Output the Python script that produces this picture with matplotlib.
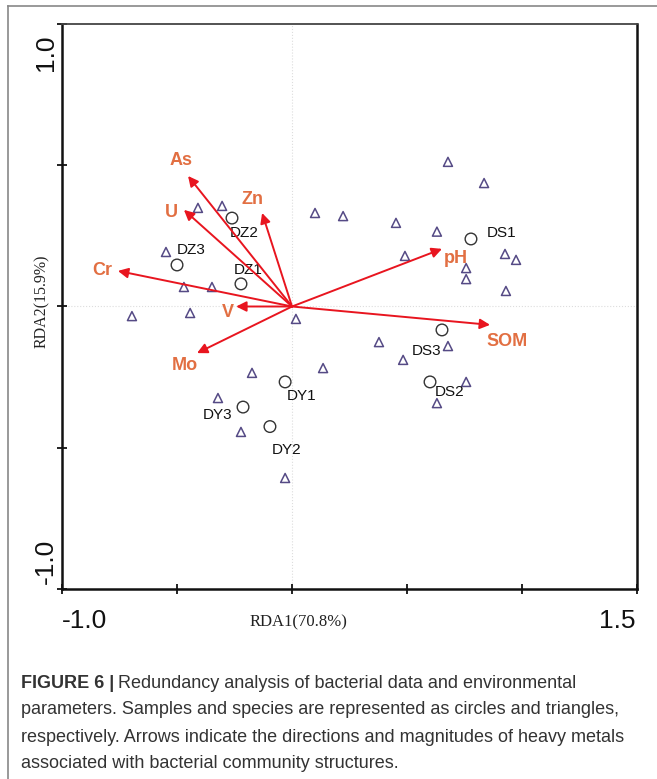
import matplotlib.pyplot as plt
from matplotlib.lines import Line2D

# 環境因子（矢印）
env_names = ["As", "U", "Zn", "Cr", "V", "Mo", "pH", "SOM"]
env_x = [-0.452, -0.470, -0.130, -0.757, -0.243, -0.413, 0.652, 0.861]
env_y = [0.462, 0.342, 0.331, 0.126, 0.000, -0.165, 0.204, -0.065]

# サンプル（丸）
sample_names = ["DZ1", "DZ2", "DZ3", "DS1", "DS2", "DS3", "DY1", "DY2", "DY3"]
sample_x = [-0.222, -0.261, -0.500, 0.778, 0.600, 0.652, -0.030, -0.096, -0.213]
sample_y = [0.080, 0.313, 0.147, 0.239, -0.267, -0.083, -0.267, -0.425, -0.356]

# 種（三角）
species_x = [-0.409, -0.304, 0.100, -0.548, -0.470, -0.348, -0.696, -0.443, 0.017,
             0.222, 0.678, 0.835, 0.452, 0.630, 0.491, 0.926, 0.974, 0.757, 0.757,
             0.930, -0.174, 0.135, -0.322, -0.222, -0.030, 0.378, 0.483, 0.678,
             0.757, 0.630]
species_y = [0.349, 0.356, 0.331, 0.193, 0.069, 0.069, -0.034, -0.023, -0.044,
             0.320, 0.512, 0.437, 0.296, 0.265, 0.179, 0.186, 0.165, 0.136, 0.097,
             0.055, -0.235, -0.218, -0.324, -0.444, -0.607, -0.126, -0.189, -0.140,
             -0.267, -0.342]

# 軸の範囲
x_range = (-1.0, 1.5)
y_range = (-1.0, 1.0)

# ラベルの位置（ポイント単位のオフセット）
env_offsets = {"As": (-5, 11), "U": (-9, -2), "Zn": (-7, 10), "Cr": (-11, 0),
               "V": (-6, -4), "Mo": (-9, -9), "pH": (10, -7), "SOM": (12, -12)}
sample_offsets = {"DZ1": (5, 10), "DZ2": (9, -11), "DZ3": (10, 11), "DS1": (22, 4),
                  "DS2": (14, -7), "DS3": (-11, -15), "DY1": (12, -10),
                  "DY2": (12, -17), "DY3": (-18, -6)}

sans = ["Liberation Sans", "DejaVu Sans"]
arrow_red = "#e8151f"
label_orange = "#e26f42"
tri_color = "#554a85"

fig = plt.figure(figsize=(6.57, 7.79), dpi=100)
ax = fig.add_axes([0.0944, 0.2439, 0.8752, 0.7253])
ax.set_xlim(*x_range)
ax.set_ylim(*y_range)

# 原点の補助線
ax.axhline(0, color="#dddddd", lw=0.8, ls=":", zorder=0)
ax.axvline(0, color="#dddddd", lw=0.8, ls=":", zorder=0)

ax.scatter(species_x, species_y, marker="^", s=42, facecolors="none",
           edgecolors=tri_color, linewidths=1.1, zorder=3)
ax.scatter(sample_x, sample_y, marker="o", s=70, facecolors="none",
           edgecolors="#333333", linewidths=1.0, zorder=3)

for name, x, y in zip(sample_names, sample_x, sample_y):
    dx, dy = sample_offsets[name]
    ax.annotate(name, (x, y), xytext=(dx, dy), textcoords="offset points",
                ha="center", va="center", fontsize=11, family=sans,
                color="#111111", zorder=4)

for name, x, y in zip(env_names, env_x, env_y):
    ax.annotate("", xy=(x, y), xytext=(0, 0),
                arrowprops=dict(arrowstyle="-|>", color=arrow_red, lw=1.4,
                                mutation_scale=15, shrinkA=0, shrinkB=0),
                zorder=5)
    dx, dy = env_offsets[name]
    ax.annotate(name, (x, y), xytext=(dx, dy), textcoords="offset points",
                ha="center", va="center", fontsize=13, fontweight="bold",
                family=sans, color=label_orange, zorder=6)

# 軸の見た目
for side in ["left", "bottom", "right"]:
    ax.spines[side].set_linewidth(1.8)
    ax.spines[side].set_color("#111111")
ax.spines["top"].set_linewidth(1.3)
ax.spines["top"].set_color("#444444")

ax.set_xticks([-1.0, -0.5, 0.0, 0.5, 1.0, 1.5])
ax.set_yticks([-1.0, -0.5, 0.0, 0.5, 1.0])
ax.set_xticklabels([])
ax.set_yticklabels([])
ax.tick_params(direction="inout", length=7, width=1.3, colors="#111111")

# 端の目盛りだけ数値を書く
tick_kw = dict(xycoords="axes fraction", textcoords="offset pixels",
               fontsize=19, family=sans, color="#111111")
ax.annotate(f"{x_range[0]:.1f}", (0, 0), xytext=(0, -32), ha="left", va="center", **tick_kw)
ax.annotate(f"{x_range[1]:.1f}", (1, 0), xytext=(-2, -32), ha="right", va="center", **tick_kw)
ax.annotate(f"{y_range[1]:.1f}", (0, 1), xytext=(-16, -11), ha="center", va="top",
            rotation=90, **tick_kw)
ax.annotate(f"{y_range[0]:.1f}", (0, 0), xytext=(-16, 5), ha="center", va="bottom",
            rotation=90, **tick_kw)

ax.set_xlabel("RDA1(70.8%)", family="Liberation Serif", fontsize=12,
              color="#222222")
ax.xaxis.set_label_coords(0.412, -0.045)
ax.set_ylabel("RDA2(15.9%)", family="Liberation Serif", fontsize=11.5,
              color="#222222")
ax.yaxis.set_label_coords(-0.021, 0.51)

# 外枠（上と左）
fig.add_artist(Line2D([8 / 657, 8 / 657], [0, 1 - 6 / 779],
                      transform=fig.transFigure, color="#888888", lw=1.2))
fig.add_artist(Line2D([8 / 657, 1], [1 - 6 / 779, 1 - 6 / 779],
                      transform=fig.transFigure, color="#888888", lw=1.2))

# キャプション
cap_lines = [
    "Redundancy analysis of bacterial data and environmental",
    "parameters. Samples and species are represented as circles and triangles,",
    "respectively. Arrows indicate the directions and magnitudes of heavy metals",
    "associated with bacterial community structures.",
]
cap_y = [683, 710, 737, 764]
cap_x = 21 / 657
t = fig.text(cap_x, 1 - cap_y[0] / 779, "FIGURE 6 |", family=sans,
             fontweight="bold", fontsize=13, color="#333333", va="center")
fig.canvas.draw()
bb = t.get_window_extent()
fig.text((bb.x1 + 4) / 657, 1 - cap_y[0] / 779, cap_lines[0], family=sans,
         fontsize=13, color="#333333", va="center")
for line, yy in zip(cap_lines[1:], cap_y[1:]):
    fig.text(cap_x, 1 - yy / 779, line, family=sans, fontsize=13,
             color="#333333", va="center")

fig.savefig("out.png", dpi=100)
